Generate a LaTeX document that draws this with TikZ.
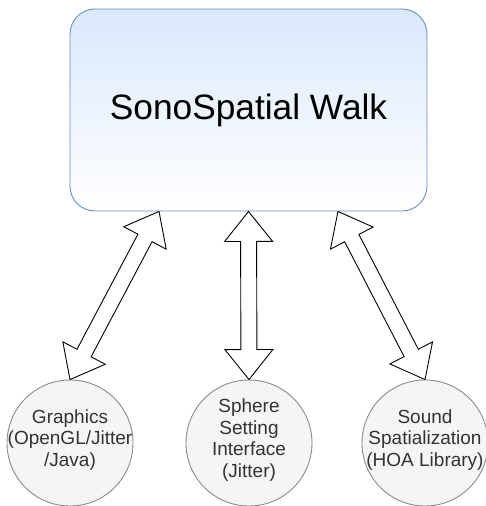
\documentclass[tikz,border=0pt]{standalone}
\usepackage{fontspec}
\setmainfont{Liberation Sans}
\usetikzlibrary{calc}

\definecolor{boxtop}{HTML}{DAE8FC}
\definecolor{boxline}{HTML}{6C8EBF}
\definecolor{unitfill}{HTML}{F5F5F5}
\definecolor{unitline}{HTML}{8A8A8A}
\definecolor{unittext}{HTML}{333333}

\tikzset{
  mainbox/.style={draw=boxline, line width=0.9pt, rounded corners=25pt,
    top color=boxtop, bottom color=white,
    minimum width=357pt, minimum height=202pt, inner sep=0pt,
    font=\fontsize{35.3}{40}\selectfont},
  unit/.style={circle, draw=unitline, fill=unitfill, line width=0.9pt,
    minimum size=126pt, inner sep=0pt},
  unitlabel/.style={text=unittext, align=center, inner sep=0pt,
    font=\fontsize{19}{21.8}\selectfont},
  flexarrow/.style={draw=black, fill=white, line width=0.9pt, line join=miter},
}

% wide double-headed block arrow between two named points
\newcommand\biarrow[2]{%
  \draw[flexarrow] (#1)
    -- ($(#1)!30pt!(#2)!24pt!90:(#2)$)
    -- ($(#1)!30pt!(#2)!8pt!90:(#2)$)
    -- ($(#2)!30pt!(#1)!8pt!-90:(#1)$)
    -- ($(#2)!30pt!(#1)!24pt!-90:(#1)$)
    -- (#2)
    -- ($(#2)!30pt!(#1)!24pt!90:(#1)$)
    -- ($(#2)!30pt!(#1)!8pt!90:(#1)$)
    -- ($(#1)!30pt!(#2)!8pt!-90:(#2)$)
    -- ($(#1)!30pt!(#2)!24pt!-90:(#2)$)
    -- cycle;}

\begin{document}
\begin{tikzpicture}[x=1pt,y=-1pt]
\useasboundingbox (0,0) rectangle (485,506);

\node[mainbox] (walk) at (248.5,110) {SonoSpatial Walk};

\node[unit] (gfx) at (70,443) {};
\node[unit] (sphere) at (249,443) {};
\node[unit] (sound) at (425,443) {};

\node[unitlabel] (gfxtext) at ($(gfx.center)+(0,-3)$) {Graphics\\(OpenGL/Jitter\\/Java)};
\node[unitlabel] (spheretext) at ($(sphere.center)+(0,-3)$) {Sphere\\Setting\\Interface\\(Jitter)};
\node[unitlabel] (soundtext) at ($(sound.center)+(0,-3)$) {Sound\\Spatialization\\(HOA Library)};

\coordinate (walkL) at ($(walk.south west)!0.25!(walk.south east)$);
\coordinate (walkR) at ($(walk.south west)!0.75!(walk.south east)$);

\biarrow{walkL}{gfx.north}
\biarrow{walk.south}{sphere.north}
\biarrow{walkR}{sound.north}
\end{tikzpicture}
\end{document}
